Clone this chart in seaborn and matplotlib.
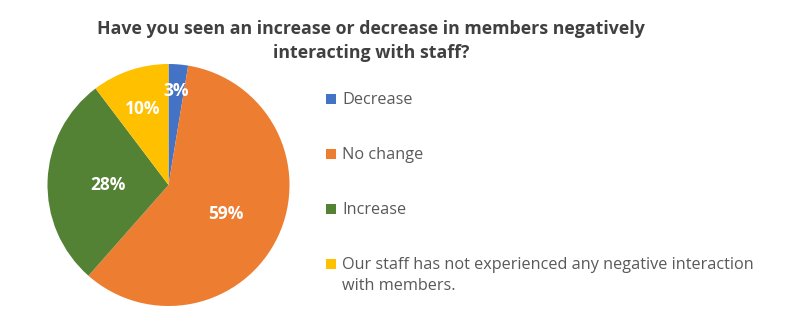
import numpy as np
import matplotlib
matplotlib.use("Agg")
import matplotlib.pyplot as plt
import seaborn as sns
from matplotlib.patches import Rectangle

categories = ["Decrease", "No change", "Increase",
              "Our staff has not experienced any negative interaction\nwith members."]
values = [2.6, 58.9, 28.2, 10.3]
pct_labels = ["3%", "59%", "28%", "10%"]
colors = ["#4472C4", "#ED7D31", "#548235", "#FFC000"]
title = "Have you seen an increase or decrease in members negatively\ninteracting with staff?"

sns.set_theme(style="white")
plt.rcParams['font.family'] = ['Open Sans', 'DejaVu Sans']

W, H = 788, 332
fig = plt.figure(figsize=(W / 100, H / 100), dpi=100)
fig.patch.set_facecolor("white")

cx, cy, r = 168.5, 185, 121
ax = fig.add_axes([(cx - r) / W, (H - cy - r) / H, 2 * r / W, 2 * r / H])
wedges, _ = ax.pie(values, colors=colors, startangle=90, counterclock=False,
                   wedgeprops=dict(linewidth=0))
ax.set_xlim(-1, 1)
ax.set_ylim(-1, 1)
ax.set_aspect("equal")
ax.axis("off")

# data labels
label_r = [0.8, 0.52, 0.5, 0.68]
total = sum(values)
start = 90.0
for v, lab, lr in zip(values, pct_labels, label_r):
    span = v / total * 360
    mid = np.deg2rad(start - span / 2)
    ax.text(lr * np.cos(mid), lr * np.sin(mid) - 0.02, lab, ha="center", va="center",
            color="white", fontsize=12.5, fontweight="bold")
    start -= span

fig.text(371 / W, 1 - 41 / H, title, ha="center", va="center", fontsize=12.75,
         fontweight="bold", color="#404040", linespacing=1.5)

# legend
ys = [99, 154, 209, 264]
for lab, c, y in zip(categories, colors, ys):
    fig.add_artist(Rectangle((326 / W, 1 - (y + 5) / H), 10 / W, 10 / H,
                             transform=fig.transFigure, color=c, lw=0))
    fig.text(342 / W, 1 - (y - 7) / H, lab, ha="left", va="top", fontsize=11.7,
             color="#595959", linespacing=1.4)

fig.savefig("out.png", dpi=100, facecolor="white")
